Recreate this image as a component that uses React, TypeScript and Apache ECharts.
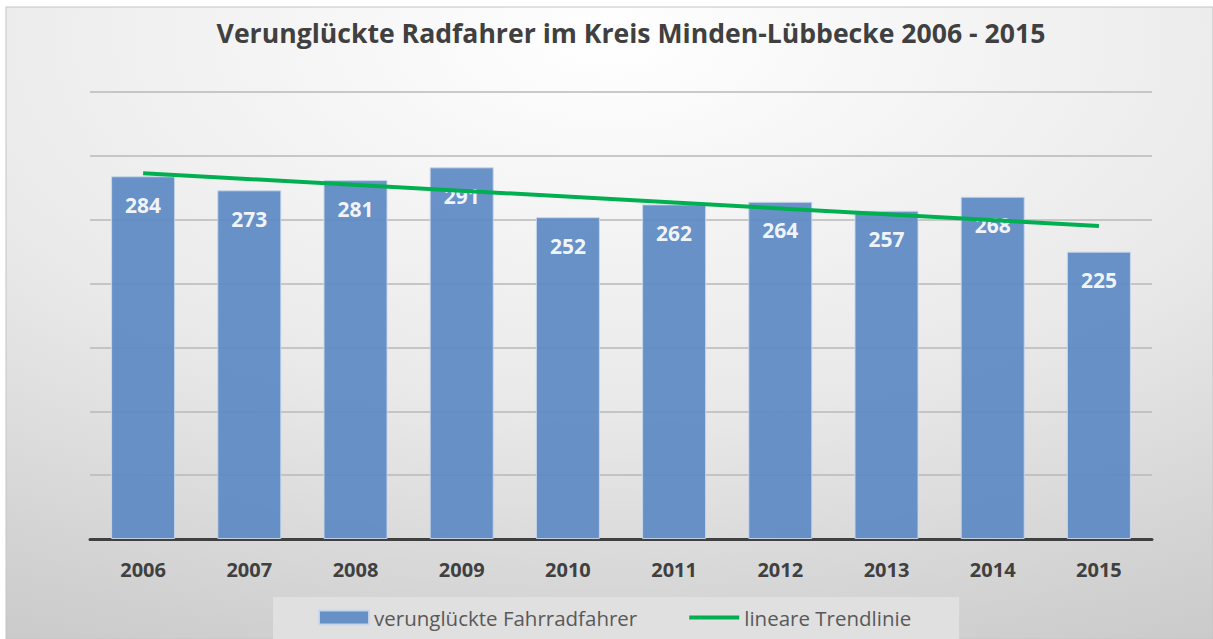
import React, { useEffect, useRef } from "react";
import * as echarts from "echarts";

const years = ["2006", "2007", "2008", "2009", "2010", "2011", "2012", "2013", "2014", "2015"];
const casualties = [284, 273, 281, 291, 252, 262, 264, 257, 268, 225];
// trend line endpoints (2006 and 2015), straight line between
const trend = [286.4, null, null, null, null, null, null, null, null, 245.1];
const yMax = 350;
const yStep = 50;

export default function App() {
  const ref = useRef<HTMLDivElement>(null);
  useEffect(() => {
    document.body.style.margin = "0";
    const chart = echarts.init(ref.current!, null, { renderer: "svg" });
    const font = "'Open Sans', 'Noto Sans', sans-serif";
    chart.setOption({
      animation: false,
      textStyle: { fontFamily: font },
      graphic: [
        {
          type: "rect",
          z: -100,
          silent: true,
          shape: { x: 6, y: 7, width: 1207, height: 632 },
          style: {
            fill: {
              type: "radial",
              x: 0.5,
              y: 0.05,
              r: 1.3,
              colorStops: [
                { offset: 0, color: "#ffffff" },
                { offset: 0.45, color: "#e9e9e9" },
                { offset: 0.75, color: "#d0d0d0" },
                { offset: 1, color: "#bebebe" },
              ],
            },
            stroke: "#c4c4c4",
            lineWidth: 1,
          },
        },
      ],
      title: {
        text: "Verunglückte Radfahrer im Kreis Minden-Lübbecke 2006 - 2015",
        left: 626,
        textAlign: "center",
        top: 14,
        textStyle: { fontFamily: font, fontSize: 26.6, fontWeight: "bold", color: "#404040" },
      },
      legend: {
        bottom: -2,
        left: 273,
        backgroundColor: "#e0e0e0",
        padding: [10, 48, 13, 45],
        itemGap: 52,
        itemWidth: 50,
        itemHeight: 14,
        symbolKeepAspect: true,
        textStyle: { fontFamily: font, fontSize: 20.5, color: "#595959" },
        data: [
          { name: "verunglückte Fahrradfahrer", icon: "rect" },
          { name: "lineare Trendlinie", icon: "path://M0,0 L50,0 L50,4 L0,4 Z" },
        ],
      },
      grid: { left: 90, right: 61, top: 92, bottom: 100, containLabel: false },
      xAxis: {
        type: "category",
        data: years,
        axisTick: { show: false },
        axisLine: { lineStyle: { color: "#404040", width: 3 } },
        axisLabel: { margin: 20, fontFamily: font, fontSize: 20, fontWeight: "bold", color: "#404040" },
      },
      yAxis: {
        type: "value",
        min: 0,
        max: yMax,
        interval: yStep,
        axisLabel: { show: false },
        axisLine: { show: false },
        axisTick: { show: false },
        splitLine: { lineStyle: { color: "#b8b8b8", width: 1.5 } },
      },
      series: [
        {
          name: "verunglückte Fahrradfahrer",
          type: "bar",
          data: casualties,
          barWidth: 64,
          itemStyle: { color: "#5b89c3", opacity: 0.92, borderColor: "#c9d7ea", borderWidth: 1 },
          label: {
            show: true,
            position: "insideTop",
            distance: 18,
            fontFamily: font,
            fontSize: 21,
            fontWeight: "bold",
            color: "#ffffff",
          },
          z: 2,
        },
        {
          name: "lineare Trendlinie",
          type: "line",
          data: trend,
          connectNulls: true,
          symbol: "none",
          lineStyle: { color: "#00b050", width: 4 },
          itemStyle: { color: "#00b050" },
          z: 3,
        },
      ],
    });
    return () => chart.dispose();
  }, []);
  return <div ref={ref} style={{ position: "absolute", left: 0, top: 0, width: 1213, height: 639, background: "#fff" }} />;
}
